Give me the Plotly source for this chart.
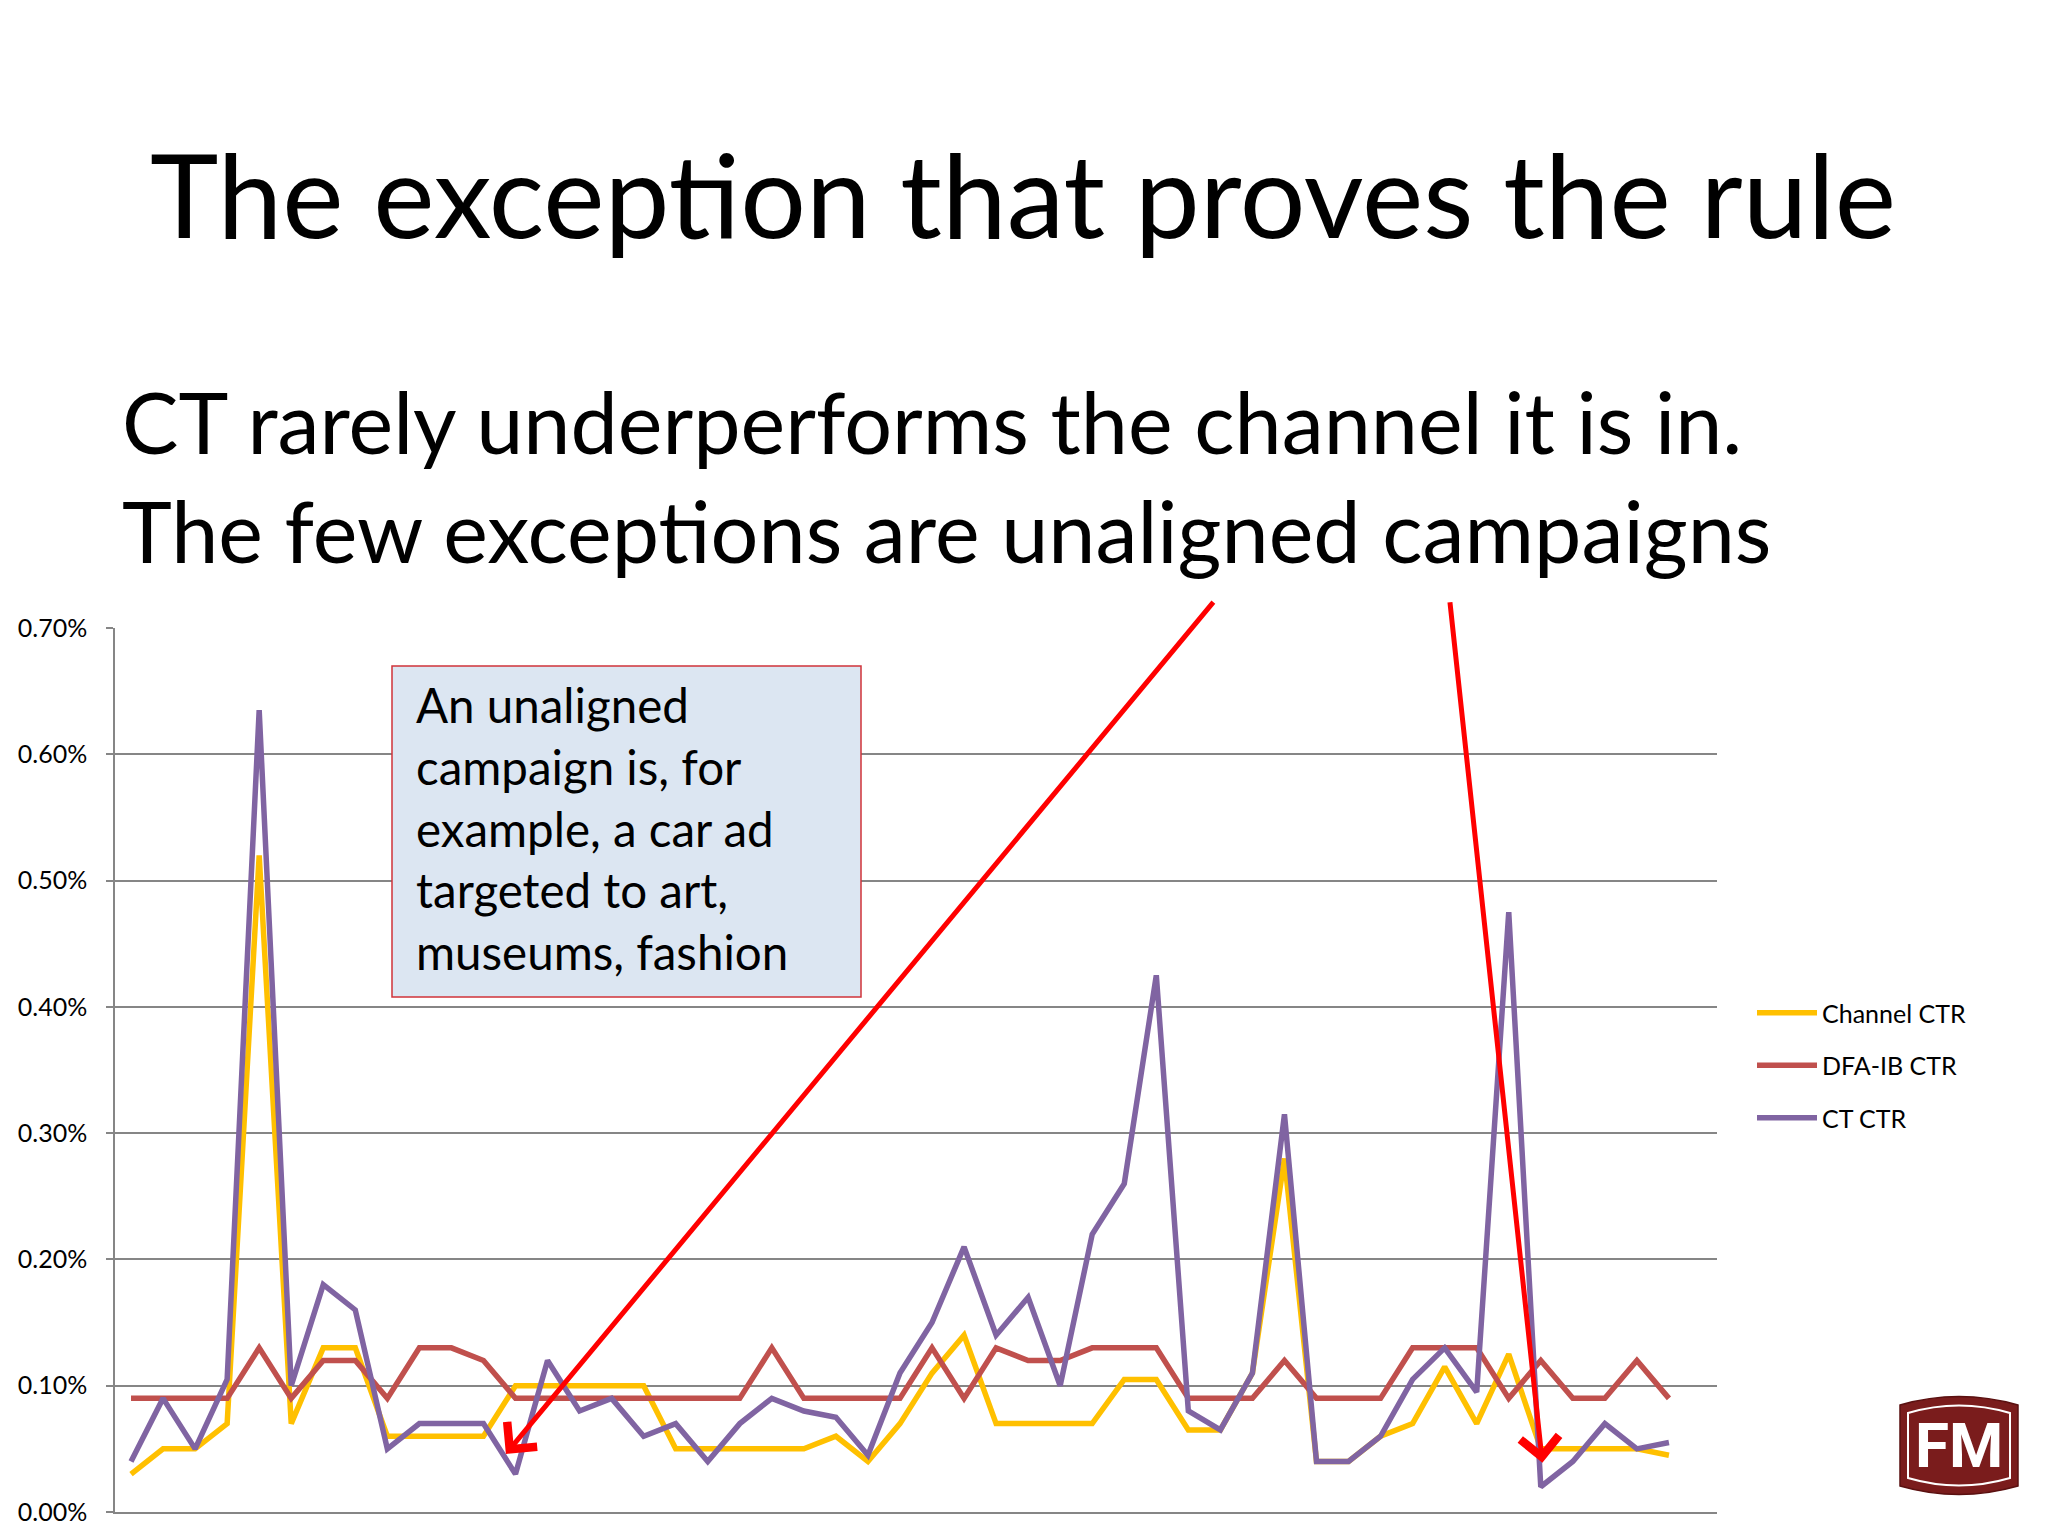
import plotly.graph_objects as go

# ---------------- data (values in percent) ----------------
categories = list(range(50))

channel_ctr = [0.03, 0.05, 0.05, 0.07, 0.52, 0.07, 0.13, 0.13, 0.06, 0.06,
               0.06, 0.06, 0.10, 0.10, 0.10, 0.10, 0.10, 0.05, 0.05, 0.05,
               0.05, 0.05, 0.06, 0.04, 0.07, 0.11, 0.14, 0.07, 0.07, 0.07,
               0.07, 0.105, 0.105, 0.065, 0.065, 0.11, 0.28, 0.04, 0.04, 0.06,
               0.07, 0.115, 0.07, 0.125, 0.05, 0.05, 0.05, 0.05, 0.045, None]

dfa_ib_ctr = [0.09, 0.09, 0.09, 0.09, 0.13, 0.09, 0.12, 0.12, 0.09, 0.13,
              0.13, 0.12, 0.09, 0.09, 0.09, 0.09, 0.09, 0.09, 0.09, 0.09,
              0.13, 0.09, 0.09, 0.09, 0.09, 0.13, 0.09, 0.13, 0.12, 0.12,
              0.13, 0.13, 0.13, 0.09, 0.09, 0.09, 0.12, 0.09, 0.09, 0.09,
              0.13, 0.13, 0.13, 0.09, 0.12, 0.09, 0.09, 0.12, 0.09, None]

ct_ctr = [0.04, 0.09, 0.05, 0.105, 0.635, 0.10, 0.18, 0.16, 0.05, 0.07,
          0.07, 0.07, 0.03, 0.12, 0.08, 0.09, 0.06, 0.07, 0.04, 0.07,
          0.09, 0.08, 0.075, 0.045, 0.11, 0.15, 0.21, 0.14, 0.17, 0.10,
          0.22, 0.26, 0.425, 0.08, 0.065, 0.11, 0.315, 0.04, 0.04, 0.06,
          0.105, 0.13, 0.095, 0.475, 0.02, 0.04, 0.07, 0.05, 0.055, None]

series_names = ["Channel CTR", "DFA-IB CTR", "CT CTR"]
series_colors = ["#FFC000", "#C0504D", "#8064A2"]

title_text = "The exception that proves the rule"
subtitle_lines = ["CT rarely underperforms the channel it is in.",
                  "The few exceptions are unaligned campaigns"]
box_lines = ["An unaligned", "campaign is, for", "example, a car ad",
             "targeted to art,", "museums, fashion"]

# arrows: (tail_x, tail_y%, head_x, head_y%)
arrows = [(33.82, 0.7217, 11.7, 0.046),
          (41.16, 0.7217, 44.05, 0.039)]

FONT = "Lato, Calibri, Carlito, sans-serif"

# ---------------- figure ----------------
OFF = 8  # default page body margin
W, H = 2048 - OFF, 1536 - OFF
L, R, T, B = 115 - OFF, 331, 628 - OFF, 32 - OFF
PW, PH = W - L - R, H - T - B


def px(x):
    return (x - OFF - L) / PW


def py(y):
    return (H - B - (y - OFF)) / PH


fig = go.Figure()
for name, vals, col in zip(series_names, [channel_ctr, dfa_ib_ctr, ct_ctr], series_colors):
    fig.add_trace(go.Scatter(
        x=categories, y=[None if v is None else v / 100 for v in vals],
        mode="lines", name=name, legendgroup=name,
        line=dict(color=col, width=5.5), hoverinfo="skip"))

annotations = []
annotations.append(dict(xref="paper", yref="paper", x=px(1023), y=py(193),
                        xanchor="center", yanchor="middle", showarrow=False,
                        text=title_text, font=dict(family=FONT, size=116, color="#000000")))
for i, line in enumerate(subtitle_lines):
    annotations.append(dict(xref="paper", yref="paper", x=px(120), y=py(422 + 108 * i),
                            xanchor="left", yanchor="middle", showarrow=False,
                            text=line, font=dict(family=FONT, size=84.5, color="#000000")))

# text box: rectangle + text
annotations.append(dict(xref="paper", yref="paper", x=px(414), y=py(674),
                        xanchor="left", yanchor="top", showarrow=False,
                        text="<br>".join(box_lines), align="left",
                        font=dict(family=FONT, size=47.5, color="#000000")))

for tx, ty, hx, hy in arrows:
    annotations.append(dict(x=hx, y=hy / 100, ax=tx, ay=ty / 100,
                            xref="x", yref="y", axref="x", ayref="y",
                            showarrow=True, arrowhead=4, arrowsize=1.5,
                            arrowwidth=5, arrowcolor="#FF0000", text="", standoff=0))

# FM logo
annotations.append(dict(xref="paper", yref="paper", x=px(1959), y=py(1445),
                        xanchor="center", yanchor="middle", showarrow=False,
                        text="<b>FM</b>",
                        font=dict(family="Liberation Sans Narrow, Roboto, sans-serif",
                                  size=62, color="#FFFFFF")))

shapes = [
    dict(type="rect", xref="paper", yref="paper",
         x0=px(392), x1=px(861), y0=py(997), y1=py(666),
         fillcolor="#DCE6F2", line=dict(color="#D0333A", width=1.5), layer="above"),
    dict(type="path", xref="paper", yref="paper",
         path=("M {x0},{y1} Q {xm},{yt} {x1},{y1} L {x1},{y0} Q {xm},{yb} {x0},{y0} Z").format(
             x0=px(1900), x1=px(2018), xm=px(1959), y1=py(1405), yt=py(1388),
             y0=py(1486), yb=py(1503)),
         fillcolor="#7A1C1C", line=dict(color="#5A1010", width=1.5), layer="above"),
    dict(type="path", xref="paper", yref="paper",
         path=("M {x0},{y1} Q {xm},{yt} {x1},{y1} L {x1},{y0} Q {xm},{yb} {x0},{y0} Z").format(
             x0=px(1908), x1=px(2010), xm=px(1959), y1=py(1413), yt=py(1398),
             y0=py(1478), yb=py(1493)),
         fillcolor="rgba(0,0,0,0)", line=dict(color="#FFFFFF", width=2), layer="above"),
]

fig.update_layout(
    width=W, height=H,
    margin=dict(l=L, r=R, t=T, b=B, autoexpand=False),
    paper_bgcolor="#FFFFFF", plot_bgcolor="#FFFFFF",
    font=dict(family=FONT, color="#000000"),
    showlegend=True,
    legend=dict(x=px(1752), y=py(990), xanchor="left", yanchor="top",
                font=dict(family=FONT, size=25, color="#000000"),
                tracegroupgap=17, itemwidth=60, bgcolor="rgba(0,0,0,0)"),
    annotations=annotations,
    shapes=shapes,
)
fig.update_xaxes(range=[-0.5, 49.5], showticklabels=False, showgrid=False,
                 showline=True, linecolor="#868686", linewidth=1.5, ticks="",
                 zeroline=False, fixedrange=True)
fig.update_yaxes(range=[0, 0.0070005], tickvals=[i / 1000 for i in range(8)],
                 tickformat=".2%",
                 showgrid=True, gridcolor="#868686", gridwidth=1.5,
                 showline=True, linecolor="#868686", linewidth=1.5,
                 ticks="outside", ticklen=7, tickcolor="#868686", tickwidth=1.5,
                 ticklabelstandoff=14,
                 tickfont=dict(family=FONT, size=25, color="#000000"),
                 zeroline=False, fixedrange=True)

fig.write_html("out.html")
